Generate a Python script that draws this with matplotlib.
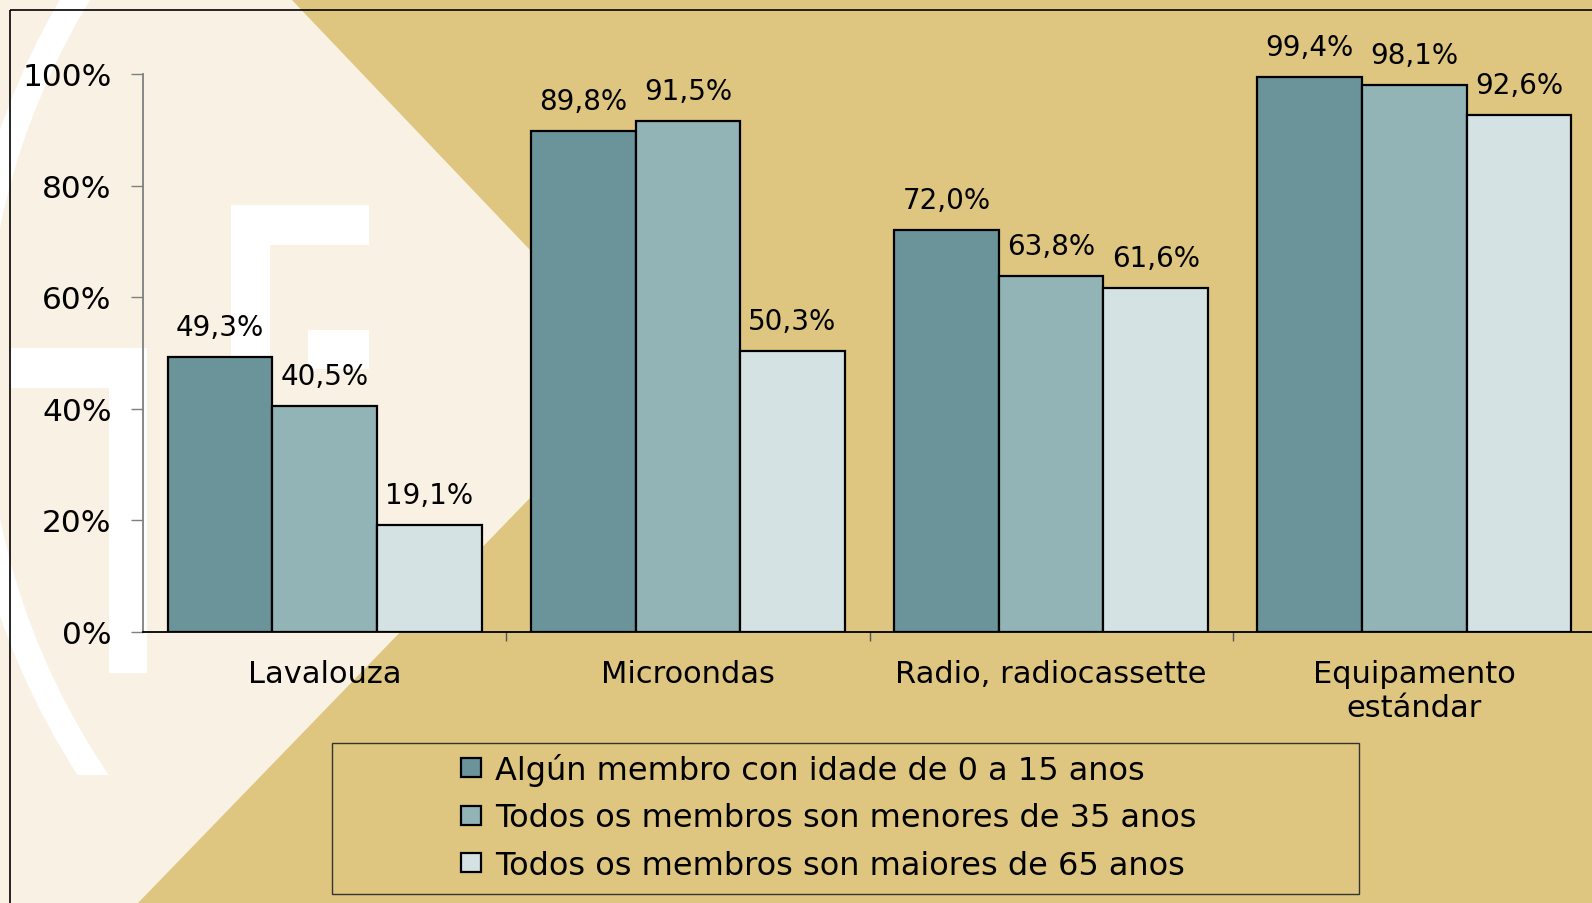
import numpy as np
import matplotlib.pyplot as plt
from matplotlib.patches import Polygon, Rectangle, Wedge

# data (percent)
categories = ['Lavalouza', 'Microondas', 'Radio, radiocassette', 'Equipamento\nestándar']
series_names = ['Algún membro con idade de 0 a 15 anos',
                'Todos os membros son menores de 35 anos',
                'Todos os membros son maiores de 65 anos']
nenos_0_15 = [49.3, 89.8, 72.0, 99.4]
menores_35 = [40.5, 91.5, 63.8, 98.1]
maiores_65 = [19.1, 50.3, 61.6, 92.6]
yticks = [0, 20, 40, 60, 80, 100]

colors = ['#6A9499', '#93B4B7', '#D5E2E4']
tan = '#DEC680'
cream = '#F9F2E4'

W, H = 1592, 904
plt.rcParams['font.family'] = ['DejaVu Sans']
fig = plt.figure(figsize=(W / 100, H / 100), dpi=100, facecolor=tan)

# slide background (pixel coordinates, y down)
bg = fig.add_axes([0, 0, 1, 1], zorder=0)
bg.set_xlim(0, W)
bg.set_ylim(H, 0)
bg.axis('off')
bg.add_patch(Polygon([(0, 0), (291, 0), (649, 376), (138, 904), (0, 904)],
                     closed=True, color=cream, lw=0))
arc = Wedge((700, 374), 741, 140, 215, width=26, color='white', lw=0)
bg.add_patch(arc)
arc.set_clip_path(Rectangle((-100, -100), 1000, 876, transform=bg.transData))
for x0, y0, x1, y1 in [(11, 349, 147, 389), (109, 389, 147, 674),
                       (231, 206, 369, 246), (231, 246, 270, 632),
                       (308, 331, 369, 370)]:
    bg.add_patch(Rectangle((x0, y0), x1 - x0, y1 - y0, color='white', lw=0))
bg.add_patch(Rectangle((10, 11), W, H, fill=False, ec='black', lw=1.2))
bg.add_patch(Rectangle((332, 744), 1027, 151, fill=False, ec='#333333', lw=1))

# chart
ax = fig.add_axes([143 / W, 1 - 632.5 / H, 1453 / W, 557.5 / H], zorder=1)
ax.patch.set_visible(False)

x = np.arange(len(categories))
w = 0.288
bars = []
for i, vals in enumerate([nenos_0_15, menores_35, maiores_65]):
    b = ax.bar(x + (i - 1) * w, vals, w, color=colors[i], edgecolor='black', lw=1.6)
    bars.append(b)
    for xi, v in zip(x + (i - 1) * w, vals):
        ax.annotate(f'{v:.1f}%'.replace('.', ','), (xi, v), xytext=(0, 21.6),
                    textcoords='offset points', ha='center', va='center', fontsize=20)

ax.set_xlim(-0.5, 3.5)
ax.set_ylim(0, 100)
ax.set_yticks(yticks)
ax.set_yticklabels([f'{t}%' for t in yticks], fontsize=22.5)
ax.set_xticks(x)
ax.set_xticklabels(categories, fontsize=22)
ax.set_xticks([0.5, 1.5, 2.5], minor=True)
ax.tick_params(axis='x', which='major', length=0, pad=20)
ax.tick_params(axis='x', which='minor', length=6.5, width=1, color='#555555')
ax.tick_params(axis='y', length=8.6, width=1, color='#7F7F7F', pad=14)

for s in ['top', 'right']:
    ax.spines[s].set_visible(False)
ax.spines['left'].set_color('#7F7F7F')
ax.spines['left'].set_linewidth(1.3)
ax.spines['bottom'].set_color('black')
ax.spines['bottom'].set_linewidth(1.3)

fig.legend(bars, series_names, loc='center left', bbox_to_anchor=(461 / W, 1 - 818 / H),
           frameon=False, fontsize=23, handlelength=0.62, handleheight=0.53,
           handletextpad=0.45, labelspacing=0.52, borderpad=0, borderaxespad=0)

fig.savefig('out.png', dpi=100, facecolor=tan)
